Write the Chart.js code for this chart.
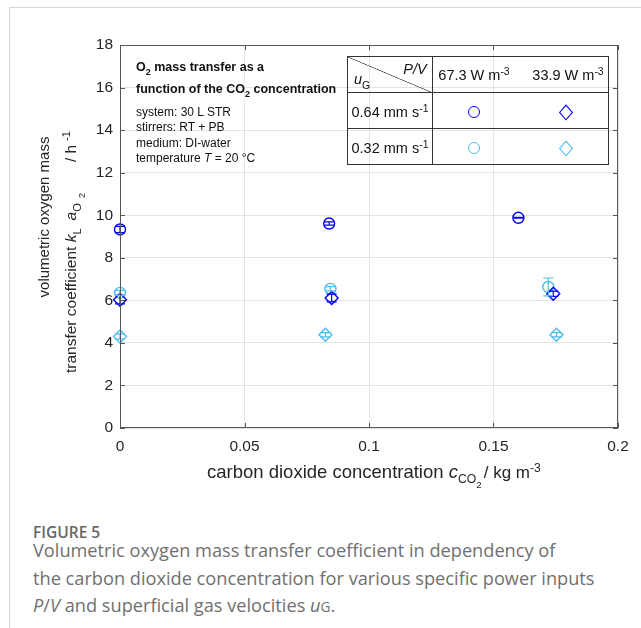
<!DOCTYPE html>
<html>
<head>
<meta charset="utf-8">
<script src="https://cdn.jsdelivr.net/npm/chart.js@4.4.1/dist/chart.umd.min.js"></script>
<style>
body { margin: 0; background: #fff; font-family: "Liberation Sans", Arial, sans-serif; }
#page { position: relative; width: 641px; height: 628px; overflow: hidden; }
#frame { position: absolute; left: 9px; top: 7px; width: 700px; height: 700px; border-left: 1px solid #d6d6d6; border-top: 1px solid #d6d6d6; }
#plot { position: absolute; left: 0; top: 0; }
.lbl { position: absolute; white-space: nowrap; color: #262626; }
.rot { transform: translate(-50%, -50%) rotate(-90deg); }
.sub { font-size: 0.72em; position: relative; top: 0.45em; }
.sub2 { font-size: 0.8em; position: relative; top: 0.45em; }
.sup { font-size: 0.72em; position: relative; top: -0.5em; }
.note { position: absolute; left: 136px; white-space: nowrap; font-size: 12px; color: #111; line-height: 15.3px; }
.note b { font-size: 12.5px; }
#legend { position: absolute; left: 347px; top: 56px; width: 262px; height: 109px; border: 1.5px solid #333; box-sizing: border-box; font-size: 14.5px; color: #111; }
#legend .ln { position: absolute; background: #333; }
#legend .t { position: absolute; white-space: nowrap; transform: translate(-50%, -50%); }
#diag { position: absolute; left: 0; top: 0; width: 85px; height: 36px;
  background: linear-gradient(to top right, transparent calc(50% - 0.7px), #444 50%, transparent calc(50% + 0.7px)); }
.mk { position: absolute; transform: translate(-50%, -50%); box-sizing: border-box; }
.circ { width: 12px; height: 12px; border-radius: 50%; border: 1.6px solid; }
.dia { width: 9.5px; height: 9.5px; border: 1.6px solid; transform: translate(-50%, -50%) scale(1, 1.15) rotate(45deg); }
#caption { position: absolute; left: 33px; top: 514px; font-family: "Open Sans", sans-serif; color: #707070; white-space: nowrap; }
#caption .fig { font-size: 15.5px; font-weight: 600; color: #666; margin-top: 7px; margin-bottom: -6px; }
#caption .txt { font-size: 18.2px; line-height: 27.5px; }
</style>
</head>
<body>
<div id="page">
  <div id="frame"></div>
  <canvas id="plot" width="641" height="500"></canvas>

  <div class="note" style="top: 60px;"><b>O<span class="sub">2</span> mass transfer as a</b></div>
  <div class="note" style="top: 82px;"><b>function of the CO<span class="sub">2</span> concentration</b></div>
  <div class="note" style="top: 105px;">system: 30 L STR<br>stirrers: RT + PB<br>medium: DI-water<br>temperature <i>T</i> = 20 °C</div>

  <div id="legend">
    <div id="diag"></div>
    <div class="ln" style="left: 84px; top: 0; width: 1.3px; height: 107px;"></div>
    <div class="ln" style="left: 0; top: 35px; width: 260px; height: 1.3px;"></div>
    <div class="ln" style="left: 0; top: 71px; width: 260px; height: 1.3px;"></div>
    <div class="t" style="left: 67px; top: 12px;"><i>P/V</i></div>
    <div class="t" style="left: 14px; top: 22px;"><i>u</i><span class="sub">G</span></div>
    <div class="t" style="left: 126px; top: 18px;">67.3 W m<span class="sup">-3</span></div>
    <div class="t" style="left: 220px; top: 18px;">33.9 W m<span class="sup">-3</span></div>
    <div class="t" style="left: 42px; top: 55px;">0.64 mm s<span class="sup">-1</span></div>
    <div class="t" style="left: 42px; top: 91px;">0.32 mm s<span class="sup">-1</span></div>
    <div class="mk circ" style="left: 126px; top: 55px; border-color: #0000ff;"></div>
    <div class="mk dia" style="left: 218px; top: 55px; border-color: #0000ff;"></div>
    <div class="mk circ" style="left: 126px; top: 91px; border-color: #4dbeee;"></div>
    <div class="mk dia" style="left: 218px; top: 91px; border-color: #4dbeee;"></div>
  </div>

  <div class="lbl rot" style="left: 43px; top: 217px; font-size: 15px;">volumetric oxygen mass</div>
  <div class="lbl rot" style="left: 71px; top: 252px; font-size: 15.5px;">transfer coefficient <i>k</i><span class="sub" style="margin-right: 8px;">L</span><i>a</i><span class="sub">O<span class="sub2" style="margin-left: 5px;">2</span></span><span style="margin-left: 31px;">/ h</span><span class="sup" style="margin-left: 4px;">-1</span></div>
  <div class="lbl" style="left: 207px; top: 461px; font-size: 18.5px;">carbon dioxide concentration <i>c</i><span class="sub" style="font-size: 0.66em;">CO<span class="sub2">2</span></span><span style="font-size: 17px; margin-left: 2px;">/ kg m<span class="sup">-3</span></span></div>

  <div id="caption">
    <div class="fig">FIGURE 5</div>
    <div class="txt">Volumetric oxygen mass transfer coefficient in dependency of<br>the carbon dioxide concentration for various specific power inputs<br><i>P</i>/<i>V</i> and superficial gas velocities <i>u</i><span style="font-size: 0.75em;">G</span>.</div>
  </div>
</div>

<script>
// ── DATA ──────────────────────────────────────────────────────
const xTickLabels = ['0', '0.05', '0.1', '0.15', '0.2'];

// uG = 0.64 mm/s, P/V = 67.3 W/m3 (dark circles)
const cCO2_064_673 = [0, 0.084, 0.160];
const kLa_064_673  = [9.33, 9.61, 9.88];
const err_064_673  = [0.15, 0.08, 0.02];

// uG = 0.64 mm/s, P/V = 33.9 W/m3 (dark diamonds)
const cCO2_064_339 = [0, 0.085, 0.174];
const kLa_064_339  = [6.03, 6.11, 6.31];
const err_064_339  = [0.2, 0.18, 0.12];

// uG = 0.32 mm/s, P/V = 67.3 W/m3 (light circles)
const cCO2_032_673 = [0, 0.0845, 0.172];
const kLa_032_673  = [6.35, 6.54, 6.63];
const err_032_673  = [0.12, 0.1, 0.42];

// uG = 0.32 mm/s, P/V = 33.9 W/m3 (light diamonds)
const cCO2_032_339 = [0, 0.0825, 0.1753];
const kLa_032_339  = [4.3, 4.38, 4.38];
const err_032_339  = [0.12, 0.1, 0.1];

const darkBlue = '#0000ff';
const lightBlue = '#4dbeee';

function points(xs, ys, es) {
    return xs.map((x, i) => ({ x: x, y: ys[i], err: es[i] }));
}

function series(label, xs, ys, es, color, style, r) {
    return {
        label: label,
        data: points(xs, ys, es),
        borderColor: color,
        backgroundColor: 'transparent',
        pointStyle: style,
        pointRadius: r,
        pointHoverRadius: r,
        pointBorderWidth: 1.4,
        showLine: false,
        clip: false
    };
}

// ── ERROR BARS + MATLAB STYLE BOX ─────────────────────────────
const boxPlugin = {
    id: 'boxPlugin',
    afterDatasetsDraw(chart) {
        const { ctx, chartArea: a, scales: { x, y } } = chart;

        chart.data.datasets.forEach(ds => {
            ctx.save();
            ctx.strokeStyle = ds.borderColor;
            ctx.lineWidth = 1.2;
            ds.data.forEach(p => {
                const px = x.getPixelForValue(p.x);
                const top = y.getPixelForValue(p.y + p.err);
                const bot = y.getPixelForValue(p.y - p.err);
                ctx.beginPath();
                ctx.moveTo(px, top); ctx.lineTo(px, bot);
                ctx.moveTo(px - 5, top); ctx.lineTo(px + 5, top);
                ctx.moveTo(px - 5, bot); ctx.lineTo(px + 5, bot);
                ctx.stroke();
            });
            ctx.restore();
        });

        ctx.save();
        ctx.strokeStyle = '#555';
        ctx.lineWidth = 1;
        ctx.strokeRect(a.left + 0.5, a.top + 0.5, a.right - a.left - 1, a.bottom - a.top - 1);
        ctx.beginPath();
        x.ticks.forEach(t => {
            const px = Math.round(x.getPixelForValue(t.value)) + 0.5;
            ctx.moveTo(px, a.bottom); ctx.lineTo(px, a.bottom - 5);
            ctx.moveTo(px, a.top); ctx.lineTo(px, a.top + 5);
        });
        y.ticks.forEach(t => {
            const py = Math.round(y.getPixelForValue(t.value)) + 0.5;
            ctx.moveTo(a.left, py); ctx.lineTo(a.left + 5, py);
            ctx.moveTo(a.right, py); ctx.lineTo(a.right - 5, py);
        });
        ctx.stroke();
        ctx.restore();
    }
};

// ── CHART ─────────────────────────────────────────────────────
new Chart(document.getElementById('plot'), {
    type: 'scatter',
    data: {
        datasets: [
            series('0.64 mm/s, 67.3 W/m³', cCO2_064_673, kLa_064_673, err_064_673, darkBlue, 'circle', 5.5),
            series('0.64 mm/s, 33.9 W/m³', cCO2_064_339, kLa_064_339, err_064_339, darkBlue, 'rectRot', 6.5),
            series('0.32 mm/s, 67.3 W/m³', cCO2_032_673, kLa_032_673, err_032_673, lightBlue, 'circle', 5.5),
            series('0.32 mm/s, 33.9 W/m³', cCO2_032_339, kLa_032_339, err_032_339, lightBlue, 'rectRot', 6.5)
        ]
    },
    options: {
        responsive: false,
        animation: false,
        devicePixelRatio: 1,
        events: [],
        layout: { padding: { left: 70, right: 23, top: 45, bottom: 0 } },
        plugins: { legend: { display: false }, tooltip: { enabled: false } },
        scales: {
            x: {
                type: 'linear', min: 0, max: 0.2,
                afterFit: s => { s.height = 72; },
                grid: { color: '#e4e4e4', drawTicks: false },
                border: { display: false },
                ticks: {
                    stepSize: 0.05, padding: 9, color: '#262626',
                    font: { family: 'Liberation Sans', size: 15.5 },
                    callback: (v, i) => xTickLabels[i]
                }
            },
            y: {
                type: 'linear', min: 0, max: 18,
                afterFit: s => { s.width = 50; },
                grid: { color: '#e4e4e4', drawTicks: false },
                border: { display: false },
                ticks: {
                    stepSize: 2, padding: 7, color: '#262626',
                    font: { family: 'Liberation Sans', size: 15.5 }
                }
            }
        }
    },
    plugins: [boxPlugin]
});
</script>
</body>
</html>
